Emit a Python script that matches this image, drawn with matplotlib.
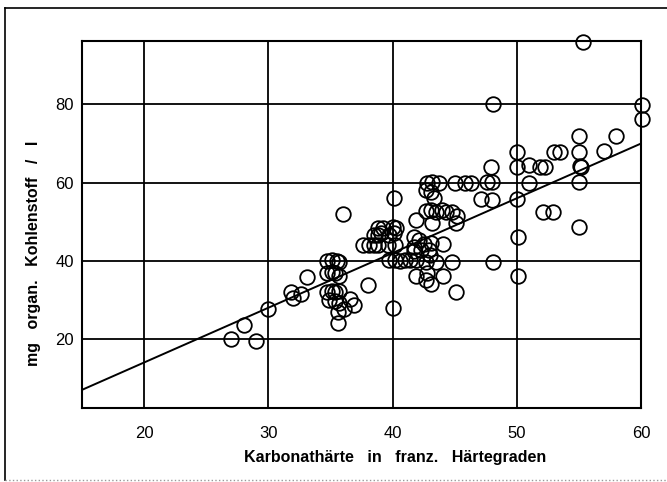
import matplotlib
matplotlib.use("Agg")
import matplotlib.pyplot as plt
from matplotlib.lines import Line2D

plt.rcParams['font.family'] = ['Liberation Sans Narrow', 'Liberation Sans', 'DejaVu Sans']

# Karbonathaerte (franz. Grad) vs mg organ. Kohlenstoff / l
haerte = [
    27.0, 28.0, 29.0, 30.0, 31.8, 32.0, 32.6, 33.1,
    34.7, 35.1, 35.5, 35.7, 34.7, 35.1, 35.4, 35.7,
    34.7, 35.1, 35.4, 35.7, 34.9, 35.4, 35.7, 36.1, 35.6, 35.6,
    36.6, 36.9, 36.0, 38.0,
    38.8, 39.2, 40.0, 40.3, 38.5, 38.8, 39.1, 39.7, 40.1,
    37.6, 38.1, 38.5, 38.8, 39.6, 40.2,
    39.7, 40.2, 40.6, 41.0, 41.4, 41.7,
    40.1, 40.0, 41.9, 42.8,
    42.8, 43.2, 43.7, 42.7, 43.1, 43.3,
    42.7, 43.1, 43.5, 44.0, 44.3, 44.8, 45.2, 45.1, 41.9, 43.2,
    41.7, 42.1, 42.5, 41.7, 42.3, 42.9, 44.1, 43.1,
    41.9, 42.7, 43.5, 44.8, 43.0,
    42.7, 43.1, 44.1, 45.1,
    45.0, 45.8, 46.3, 47.1, 47.6, 48.0, 47.9, 48.0, 48.1, 48.1,
    50.0, 50.0, 50.0, 50.1, 50.1, 51.0, 51.0, 51.9, 52.3, 52.1, 52.9,
    53.0, 53.5, 55.0, 55.0, 55.1, 55.3, 55.0, 55.0, 55.2,
    57.0, 58.0, 60.1, 60.1,
]
kohlenstoff = [
    20.0, 23.6, 19.5, 27.7, 32.0, 30.6, 31.6, 35.8,
    40.0, 40.2, 40.0, 39.8, 36.9, 37.2, 36.8, 36.2,
    32.1, 32.4, 32.0, 32.2, 30.0, 29.6, 29.2, 27.8, 27.0, 24.0,
    30.2, 28.6, 52.0, 33.8,
    48.3, 48.3, 48.6, 48.3, 46.6, 46.6, 47.0, 46.6, 47.0,
    44.0, 44.0, 44.0, 44.0, 44.0, 44.0,
    40.2, 40.2, 40.0, 40.2, 40.2, 42.5,
    56.0, 27.9, 36.0, 37.0,
    60.0, 60.2, 60.0, 58.1, 57.5, 56.0,
    52.8, 53.0, 52.6, 53.0, 52.6, 52.5, 51.5, 49.8, 50.4, 49.6,
    46.1, 45.3, 44.4, 43.6, 42.7, 42.7, 44.2, 44.5,
    40.2, 39.8, 39.8, 39.6, 41.5,
    35.2, 34.0, 36.2, 32.0,
    60.0, 60.0, 60.0, 55.8, 60.2, 60.2, 64.0, 55.5, 80.0, 39.8,
    67.9, 64.0, 55.7, 46.0, 36.0, 64.5, 59.8, 64.0, 64.0, 52.5, 52.5,
    67.9, 67.9, 71.9, 67.9, 64.2, 96.0, 60.2, 48.7, 64.0,
    68.1, 71.9, 79.8, 76.2,
]

# Regressionsgerade y = a*x + b
fit_slope = 1.4
fit_intercept = -14.0

x_ticks = [20, 30, 40, 50, 60]
y_ticks = [20, 40, 60, 80]

fig = plt.figure(figsize=(6.67, 4.82), dpi=100)
ax = fig.add_axes([0.123, 0.1535, 0.838, 0.762])

ax.set_xlim(15, 60)
ax.set_ylim(2.35, 96.3)

for xv in x_ticks[:-1]:
    ax.axvline(xv, color='black', lw=1.3, zorder=1)
for yv in y_ticks:
    ax.axhline(yv, color='black', lw=1.3, zorder=1)

xs = [15, 60]
ax.plot(xs, [fit_slope * v + fit_intercept for v in xs], color='black', lw=1.4, zorder=2)

ax.plot(haerte, kohlenstoff, 'o', ms=10.5, mfc='none', mec='black', mew=1.3, zorder=3,
        clip_on=False)

ax.set_xticks(x_ticks)
ax.set_yticks(y_ticks)
ax.tick_params(length=0, labelsize=12)
ax.tick_params(axis='x', pad=13)
ax.tick_params(axis='y', pad=6)
for s in ax.spines.values():
    s.set_linewidth(1.5)

fig.text(0.592, 0.05, 'Karbonathärte   in   franz.   Härtegraden', ha='center', va='center',
         fontsize=11.5, fontweight='bold')
fig.text(0.05, 0.475, 'mg   organ.   Kohlenstoff   /   l', ha='center', va='center',
         rotation=90, fontsize=11.5, fontweight='bold')

# Rahmen um die Abbildung
fig.add_artist(Line2D([5 / 667, 5 / 667], [1 - 8 / 482, 1 - 480 / 482], transform=fig.transFigure,
                      color='black', lw=1.2))
fig.add_artist(Line2D([5 / 667, 1], [1 - 8 / 482, 1 - 8 / 482], transform=fig.transFigure,
                      color='black', lw=1.2))
fig.add_artist(Line2D([5 / 667, 1], [1 - 480 / 482, 1 - 480 / 482], transform=fig.transFigure,
                      color='0.6', lw=1.0, ls=':'))

fig.savefig('out.png', dpi=100)
